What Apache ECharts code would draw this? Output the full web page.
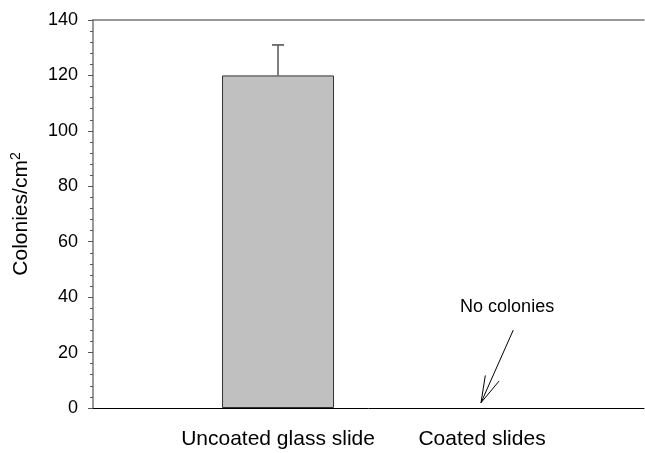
<!DOCTYPE html>
<html><head><meta charset="utf-8">
<script src="https://cdn.jsdelivr.net/npm/echarts@6/dist/echarts.min.js"></script>
<style>html,body{margin:0;padding:0;background:#fff}#c{width:645px;height:453px}</style>
</head><body><div id="c"></div>
<script>
const categories = ["Uncoated glass slide", "Coated slides"];
const categoryPos = [1, 2];
const meanValues = [120, 0];
const errorHigh = [131, null];
const yTicks = [0, 20, 40, 60, 80, 100, 120, 140];
const noteText = "No colonies";
const notePos = [2.123, 36.6];
const arrowTail = [2.153, 28.1];
const arrowTip = [1.995, 1.9];

const font = '"Liberation Sans", Arial, sans-serif';
const chart = echarts.init(document.getElementById('c'), null, {renderer: 'canvas'});

const barData = categoryPos.map((x, i) => [x, meanValues[i]]).filter(d => d[1] > 0);
const errData = categoryPos.map((x, i) => [x, meanValues[i], errorHigh[i]]).filter(d => d[2] != null);

chart.setOption({
  animation: false,
  grid: {left: 93, right: 1, top: 20, bottom: 45, containLabel: false, outerBoundsMode: 'none'},
  xAxis: [{
    type: 'value', min: 0.093, max: 2.794,
    axisLine: {show: true, lineStyle: {color: '#000', width: 1}},
    axisTick: {show: false},
    splitLine: {show: false},
    axisLabel: {
      customValues: categoryPos,
      formatter: v => categories[Math.round(v) - 1] || '',
      fontFamily: font, fontSize: 21, color: '#000', margin: 21
    }
  }, {
    type: 'value', position: 'top', min: 0.093, max: 2.794,
    axisLine: {show: true, lineStyle: {color: '#777', width: 1.5}},
    axisTick: {show: false}, axisLabel: {show: false}, splitLine: {show: false}
  }],
  yAxis: {
    type: 'value', min: yTicks[0], max: yTicks[yTicks.length - 1], interval: 20,
    name: 'Colonies/cm{sup|2}', nameLocation: 'middle', nameGap: 60,
    nameTextStyle: {fontFamily: font, fontSize: 21, color: '#000',
      rich: {sup: {fontSize: 14, verticalAlign: 'top', padding: [0, 0, 10, 0], fontFamily: font, color: '#000'}}},
    axisLine: {show: true, lineStyle: {color: '#777', width: 1.5}},
    axisTick: {show: true, length: 5, lineStyle: {color: '#555'}},
    minorTick: {show: true, splitNumber: 5, length: 3, lineStyle: {color: '#555'}},
    splitLine: {show: false},
    axisLabel: {fontFamily: font, fontSize: 18, color: '#000', margin: 15}
  },
  series: [{
    type: 'bar', data: barData, barWidth: 112,
    itemStyle: {color: '#c0c0c0', borderColor: '#333', borderWidth: 1}
  }, {
    type: 'custom', data: errData,
    renderItem: (params, api) => {
      const x = api.value(0);
      const p0 = api.coord([x, api.value(1)]);
      const p1 = api.coord([x, api.value(2)]);
      return {type: 'group', children: [
        {type: 'line', shape: {x1: p0[0], y1: p0[1], x2: p1[0], y2: p1[1]}, style: {stroke: '#555', lineWidth: 1.5}},
        {type: 'line', shape: {x1: p1[0] - 6, y1: p1[1], x2: p1[0] + 6, y2: p1[1]}, style: {stroke: '#666', lineWidth: 1.8}}
      ]};
    }, z: 3
  }, {
    type: 'custom', data: [[0]],
    renderItem: (params, api) => {
      const t = api.coord(notePos);
      const a = api.coord(arrowTail);
      const b = api.coord(arrowTip);
      return {type: 'group', children: [
        {type: 'text', x: t[0], y: t[1], style: {text: noteText, fontFamily: font, fontSize: 18, fill: '#000', align: 'center', verticalAlign: 'middle'}},
        {type: 'line', shape: {x1: a[0], y1: a[1], x2: b[0], y2: b[1]}, style: {stroke: '#000', lineWidth: 1}},
        {type: 'polyline', shape: {points: [[b[0] + 4.3, b[1] - 27.3], [b[0], b[1]], [b[0] + 18, b[1] - 21.6]]}, style: {stroke: '#000', fill: null, lineWidth: 1}}
      ]};
    }, z: 4
  }]
});
</script></body></html>
